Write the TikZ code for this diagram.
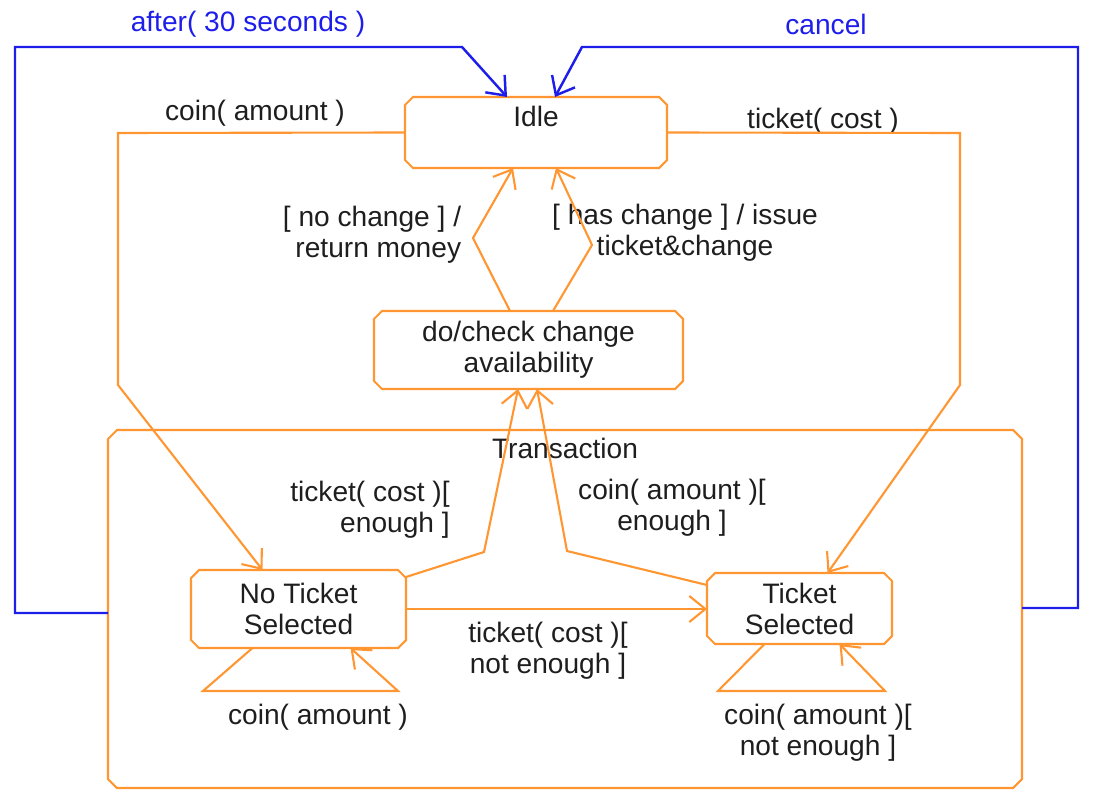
\documentclass[tikz,border=0pt]{standalone}
\usepackage{fontspec}
\setmainfont{Liberation Sans}
\usepackage{tikz}
\usetikzlibrary{calc,positioning,arrows.meta}
\definecolor{umlorange}{RGB}{255,150,50}
\definecolor{umlblue}{RGB}{30,30,235}
\definecolor{umltext}{RGB}{30,30,30}
\tikzstyle{state} = [rectangle, align=center, text=umltext, inner sep=0pt, outer sep=0pt]
\tikzstyle{trans} = [umlorange, line width=0.6pt, -{Straight Barb[length=1.6mm,width=2.6mm]}]
\tikzstyle{timeout} = [umlblue, line width=0.7pt, -{Straight Barb[length=1.6mm,width=2.6mm]}]
\tikzstyle{line} = [umlorange, line width=0.6pt]
% outline with cut corners round a named node
\newcommand{\chamferbox}[2][0.09]{%
	\draw [line] ($(#2.north west)+(#1,0)$) -- ($(#2.north east)+(-#1,0)$) --
		($(#2.north east)+(0,-#1)$) -- ($(#2.south east)+(0,#1)$) --
		($(#2.south east)+(-#1,0)$) -- ($(#2.south west)+(#1,0)$) --
		($(#2.south west)+(0,#1)$) -- ($(#2.north west)+(0,-#1)$) -- cycle;}

\begin{document}
\begin{tikzpicture}[font=\fontsize{8}{8.8}\selectfont]
\tikzset{%
	lbl/.style = { text=umltext, inner sep=1pt },
	bluelbl/.style = { text=umlblue, inner sep=1pt }
}
\useasboundingbox (0,0) rectangle (11,7.99);

\node(Transaction)	[state, minimum width=9.14cm, minimum height=3.58cm] at (5.65,1.90)
								{};
\node(TransTitle)		[lbl, below=0.04cm of Transaction.north]
								{Transaction};

\node(Idle)				[state, minimum width=2.62cm, minimum height=0.71cm, text height=0.2cm, text depth=0.32cm] at (5.36,6.665)
								{Idle};
\node(Check)				[state, minimum width=3.09cm, minimum height=0.78cm] at (5.285,4.49)
								{do/check change\\availability};
\node(NoTicket)			[state, minimum width=2.15cm, minimum height=0.78cm] at (2.985,1.90)
								{No Ticket\\Selected};
\node(TicketSel)		[state, minimum width=1.85cm, minimum height=0.71cm] at (7.995,1.905)
								{Ticket\\Selected};

\chamferbox{Transaction}
\chamferbox[0.08]{Idle}
\chamferbox[0.08]{Check}
\chamferbox[0.08]{NoTicket}
\chamferbox[0.08]{TicketSel}

% labels
\node(LblAfter)			[bluelbl] at (2.48,7.75)		{after( 30 seconds )};
\node(LblCancel)		[bluelbl] at (8.26,7.75)		{cancel};
\node(LblCoin)			[lbl] at (2.55,6.86)			{coin( amount )};
\node(LblTicket)		[lbl] at (8.23,6.78)			{ticket( cost )};
\node(LblNoChange)		[lbl, align=right] at (3.72,5.645)	{[ no change ] /\\return money};
\node(LblHasChange)		[lbl, align=center] at (6.85,5.66)	{[ has change ] / issue\\ticket\&change};
\node(LblTicketEnough)	[lbl, align=right] at (3.70,2.89)	{ticket( cost )[\\enough ]};
\node(LblCoinEnough)	[lbl, align=center] at (6.72,2.91)	{coin( amount )[\\enough ]};
\node(LblNotEnough)		[lbl, align=center] at (5.48,1.48)	{ticket( cost )[\\not enough ]};
\node(LblCoinLoop)		[lbl] at (3.18,0.82)			{coin( amount )};
\node(LblCoinLoopB)		[lbl, align=center] at (8.18,0.665)	{coin( amount )[\\not enough ]};

% blue transitions leaving the superstate
\draw [timeout]	([yshift=-0.04cm]Transaction.west) -- (0.15,1.86) -- (0.15,7.52) -- (4.62,7.52) -- ([xshift=-0.29cm]Idle.north);
\draw [timeout]	([yshift=0.01cm]Transaction.east) -- (10.78,1.91) -- (10.78,7.52) -- (5.82,7.52) -- ([xshift=0.19cm]Idle.north);

% from Idle
\draw [trans]	(Idle.west) -- (1.18,6.66) -- (1.18,4.14) -- ([xshift=-0.36cm]NoTicket.north);
\draw [trans]	(Idle.east) -- (9.60,6.66) -- (9.60,4.14) -- ([xshift=0.28cm]TicketSel.north);

% back to Idle
\draw [trans]	([xshift=-0.185cm]Check.north) -- (4.73,5.61) -- ([xshift=-0.23cm]Idle.south);
\draw [trans]	([xshift=0.245cm]Check.north) -- (5.92,5.54) -- ([xshift=0.20cm]Idle.south);

% into the check state
\draw [trans]	([yshift=0.32cm]NoTicket.east) -- (4.84,2.47) -- ([xshift=-0.105cm]Check.south);
\draw [trans]	([yshift=0.235cm]TicketSel.west) -- (5.67,2.48) -- ([xshift=0.085cm]Check.south);

\draw [trans]	(NoTicket.east) -- (NoTicket.east -| TicketSel.west);

% self transitions
\draw [trans]	([xshift=-0.46cm]NoTicket.south) -- (2.03,1.08) -- (3.98,1.08) -- ([xshift=0.52cm]NoTicket.south);
\draw [trans]	([xshift=-0.35cm]TicketSel.south) -- (7.18,1.08) -- (8.85,1.08) -- ([xshift=0.40cm]TicketSel.south);

\end{tikzpicture}
\end{document}
